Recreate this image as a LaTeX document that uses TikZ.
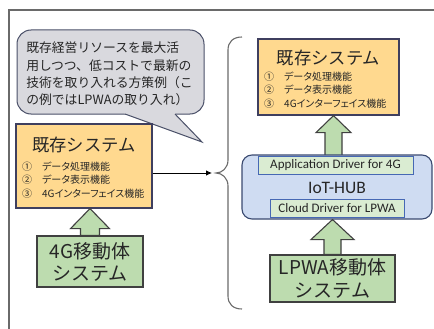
\documentclass[tikz,border=0pt]{standalone}
\usepackage{fontspec}
\setmainfont{Noto Sans CJK JP}
\newfontfamily\jpp[RawFeature=+palt]{Noto Sans CJK JP}
\newfontfamily\calfont{Carlito}
\usetikzlibrary{calc,arrows.meta}
\definecolor{framegray}{HTML}{6A6A6A}
\definecolor{txt}{HTML}{262626}
\definecolor{bubblefill}{HTML}{D9D9DE}
\definecolor{bubbleline}{HTML}{4A5068}
\definecolor{sysfill}{HTML}{FFD98F}
\definecolor{sysline}{HTML}{3F3F5F}
\definecolor{grfill}{HTML}{BDDCAF}
\definecolor{grline}{HTML}{404040}
\definecolor{hubfill}{HTML}{CFDCF2}
\definecolor{hubline}{HTML}{3A4A70}
\definecolor{drvfill}{HTML}{DAECD2}
\definecolor{drvline}{HTML}{4668B4}
\tikzset{
  sysbox/.style={draw=sysline, fill=sysfill, line width=1.2pt, inner sep=0pt},
  grbox/.style={draw=grline, fill=grfill, line width=1.1pt, inner sep=0pt, align=center, text=txt,
    font=\fontsize{19}{22}\selectfont},
  barrow/.style={draw=grline, fill=grfill, line width=1.1pt, line join=miter},
  hubbox/.style={draw=hubline, fill=hubfill, line width=1.1pt, rounded corners=10pt, inner sep=0pt},
  drvbox/.style={draw=drvline, fill=drvfill, line width=1pt, inner sep=0pt, text=txt,
    font=\calfont\fontsize{13}{14}\selectfont},
  systitle/.style={text=txt, inner sep=0pt, font=\fontsize{17.3}{20}\selectfont},
  sysitems/.style={text=txt, inner sep=0pt, align=left, anchor=west, font=\jpp\fontsize{10}{13.6}\selectfont},
  framel/.style={draw=framegray, line width=1.4pt},
}
\begin{document}
\begin{tikzpicture}[x=1pt,y=-1pt]
\useasboundingbox (0,0) rectangle (434,329);
% frame
\draw[framel] (9,329) -- (9,10) -- (434,10);

% callout
\node[draw=bubbleline, fill=bubblefill, line width=1pt, rounded corners=14pt,
      minimum width=187pt, minimum height=84pt, inner sep=0pt] (callout) at (110.5,72) {};
\node[text=txt, align=left, inner sep=0pt, font=\fontsize{12.8}{17.3}\selectfont] (callouttext) at (109.5,74)
 {既存経営リソースを最大活\\用しつつ、低コストで最新の\\技術を取り入れる方策例（こ\\の例ではLPWAの取り入れ）};
\coordinate (tailL) at (125,114);
\coordinate (tailR) at (175,114);
\coordinate (tailT) at (202,142);
\fill[bubblefill] ($(tailL)+(-1,-2)$) -- (tailL) -- (tailT) -- (tailR) -- ($(tailR)+(1,-2)$) -- cycle;
\draw[bubbleline, line width=1pt, line join=miter] (tailL) -- (tailT) -- (tailR);

% left system box
\node[sysbox, minimum width=136pt, minimum height=84pt] (lsys) at (84,166) {};
\node[systitle] (ltitle) at (84,145) {既存システム};
\node[sysitems] (litems) at (22,180) {①　データ処理機能\\②　データ表示機能\\③　4Gインターフェイス機能};

% 4G green box
\node[grbox, minimum width=106pt, minimum height=51pt] (g4) at (90,261.5) {4G移動体\\システム};
\coordinate (t1) at (g4.north |- lsys.south);
\draw[barrow] (t1) -- ($(t1)+(19.5,20)$) -- ($(t1)+(9.5,20)$) -- ($(g4.north)+(9.5,0)$)
  -- ($(g4.north)+(-9.5,0)$) -- ($(t1)+(-9.5,20)$) -- ($(t1)+(-19.5,20)$) -- cycle;
\node[grbox, minimum width=106pt, minimum height=51pt] at (g4) {4G移動体\\システム};

% connector arrow
\coordinate (ae) at (212,173);
\draw[black, line width=0.8pt, -{Latex[length=6pt,width=5.5pt]}] (lsys.east |- ae) -- (ae);

% brace
\draw[framegray, line width=1.1pt] (242,37) .. controls (233,37) and (228,42) .. (228,50) -- (228,160)
  .. controls (228,168) and (222,173) .. (216,173) .. controls (222,173) and (228,178) .. (228,186)
  -- (228,296) .. controls (228,304) and (233,309) .. (242,309);

% right system box
\node[sysbox, minimum width=141pt, minimum height=76pt] (rsys) at (328.5,77) {};
\node[systitle] (rtitle) at (328.5,58) {既存システム};
\node[sysitems] (ritems) at (264,90) {①　データ処理機能\\②　データ表示機能\\③　4Gインターフェイス機能};

% arrows (drawn before hub)
\coordinate (hubtop) at (333.5,156);
\coordinate (t2) at (hubtop |- rsys.south);
\draw[barrow] (t2) -- ($(t2)+(17.5,17)$) -- ($(t2)+(8.5,17)$) -- ($(hubtop)+(8.5,0)$)
  -- ($(hubtop)+(-8.5,0)$) -- ($(t2)+(-8.5,17)$) -- ($(t2)+(-17.5,17)$) -- cycle;

\node[grbox, minimum width=125pt, minimum height=47pt, font=\fontsize{19}{23.5}\selectfont] (lpwa) at (332.5,278.5) {LPWA移動体\\システム};

% hub
\node[hubbox, minimum width=190pt, minimum height=64pt] (hub) at (337,187) {};
\coordinate (t3) at (lpwa.north |- hub.south);
\draw[barrow] (t3) -- ($(t3)+(21.5,20)$) -- ($(t3)+(8.5,20)$) -- ($(lpwa.north)+(8.5,0)$)
  -- ($(lpwa.north)+(-8.5,0)$) -- ($(t3)+(-8.5,20)$) -- ($(t3)+(-21.5,20)$) -- cycle;
\node[grbox, minimum width=125pt, minimum height=47pt, font=\fontsize{19}{23.5}\selectfont] at (lpwa) {LPWA移動体\\システム};
\node[drvbox, minimum width=155pt, minimum height=18pt] (appdrv) at (335.5,165) {Application Driver for 4G};
\node[text=txt, inner sep=0pt, font=\calfont\fontsize{17.5}{19}\selectfont] (hubtext) at (337,188) {IoT-HUB};
\node[drvbox, minimum width=134pt, minimum height=18pt] (clouddrv) at (337,208) {Cloud Driver for LPWA};
\end{tikzpicture}
\end{document}
